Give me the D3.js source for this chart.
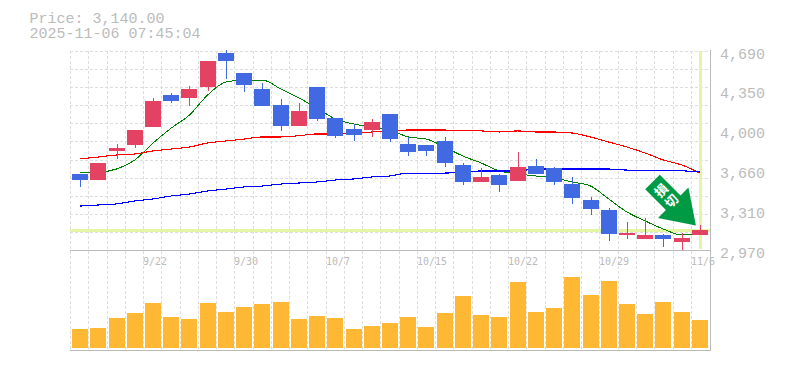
<!DOCTYPE html>
<html><head><meta charset="utf-8">
<style>html,body{margin:0;padding:0;background:#fff}svg{display:block}</style>
<script src="https://cdnjs.cloudflare.com/ajax/libs/d3/7.8.5/d3.min.js"></script></head>
<body><svg id="c" width="785" height="370"></svg>
<script>
const dates=["9/16","9/17","9/18","9/19","9/22","9/24","9/25","9/26","9/29","9/30","10/1","10/2","10/3","10/6","10/7","10/8","10/9","10/10","10/14","10/15","10/16","10/17","10/20","10/21","10/22","10/23","10/24","10/27","10/28","10/29","10/30","10/31","11/4","11/5","11/6"];
const tickDates=["9/22","9/30","10/7","10/15","10/22","10/29","11/6"];
const opens=[3627,3575,3826,3878,4033,4310,4284,4379,4673,4500,4362,4223,4042,4379,4111,4016,4007,4145,3886,3878,3912,3705,3558,3618,3566,3696,3679,3540,3402,3316,3100,3065,3100,3039,3100];
const closes=[3575,3722,3852,4007,4258,4258,4362,4604,4604,4396,4215,4042,4171,4102,3955,3964,4076,3929,3817,3826,3722,3558,3601,3532,3687,3627,3558,3419,3324,3108,3117,3100,3065,3074,3140];
const highs=[3627,3722,3886,4007,4284,4327,4387,4604,4699,4500,4413,4275,4241,4379,4111,4059,4102,4145,3947,3878,3947,3722,3679,3627,3817,3757,3687,3601,3428,3333,3212,3247,3108,3117,3186];
const lows=[3515,3575,3757,3852,4033,4241,4215,4344,4448,4336,4215,3999,4042,4085,3938,3912,3947,3903,3782,3782,3687,3532,3558,3471,3566,3627,3532,3368,3272,3048,3065,3065,2996,2970,3100];
const ma5=[3644,3644,3670,3748,3895,4024,4137,4310,4422,4439,4439,4362,4284,4197,4102,4059,4033,4007,3947,3929,3860,3782,3722,3653,3627,3610,3592,3558,3523,3411,3298,3221,3151,3100,3100];
const ma25=[3757,3774,3791,3800,3826,3843,3860,3895,3912,3929,3947,3947,3958,3973,3973,3981,3990,3999,4007,4007,4007,3999,3999,3990,3999,3990,3990,3981,3947,3903,3860,3808,3748,3705,3635];
const ma75=[3350,3359,3368,3394,3411,3437,3454,3480,3497,3515,3523,3540,3549,3558,3575,3584,3601,3610,3635,3635,3635,3644,3653,3653,3653,3670,3670,3670,3670,3670,3661,3661,3661,3655,3644];
const volumes=[19,20,30,35,45,31,29,45,36,41,44,46,29,32,30,19,22,25,31,21,35,52,33,31,66,36,40,71,53,67,44,34,46,36,28];
const priceTicks=[4690,4350,4000,3660,3310,2970];
const lastPrice=3140;
const titleLines=["Price: 3,140.00","2025-11-06 07:45:04"];
const arrowLabel="損切";

const svg=d3.select("#c");
const L=70,T=51,B=250,VB=348,VAxis=350;
const x=d3.scaleBand().domain(d3.range(dates.length)).range([71,709]).padding(0);
const cx=i=>x(i)+x.bandwidth()/2;
const gx=i=>Math.round(x(i)-1+i*0.03)+.5;
const y=d3.scaleLinear().domain([2970,4690]).range([B,T]);
const v=d3.scaleLinear().domain([0,71]).range([VB,277]);
const grey="#bbb", mono="'Liberation Mono',monospace";

// grid
const g=svg.append("g").attr("stroke","#ddd").attr("stroke-width",1).attr("stroke-dasharray","3 2").attr("shape-rendering","crispEdges");
d3.range(dates.length).forEach(i=>g.append("line").attr("x1",gx(i)).attr("x2",gx(i)).attr("y1",T).attr("y2",VAxis));
d3.range(0,11).forEach(k=>{const yy=Math.round(T+k*(B-T)/11)+.5;g.append("line").attr("x1",L).attr("x2",710).attr("y1",yy).attr("y2",yy);});

// axis frame
const f=svg.append("g").attr("stroke",grey).attr("shape-rendering","crispEdges");
f.append("line").attr("x1",L).attr("x2",711).attr("y1",250.5).attr("y2",250.5);
f.append("line").attr("x1",L).attr("x2",711).attr("y1",350.5).attr("y2",350.5);
f.append("line").attr("x1",710.5).attr("x2",710.5).attr("y1",T-1).attr("y2",351);

// current price cross
const lastX=Math.round(cx(dates.length-1));
svg.append("rect").attr("shape-rendering","crispEdges").attr("x",L).attr("width",640).attr("y",Math.round(y(lastPrice))-1).attr("height",3).attr("fill","#e5f5a6");
svg.append("rect").attr("shape-rendering","crispEdges").attr("x",lastX-1).attr("width",3).attr("y",T).attr("height",B-T-1).attr("fill","#e5f5a6");

// moving averages
const line=d3.line().x((d,i)=>cx(i)).y(d=>y(d)).curve(d3.curveMonotoneX);
[[ma5,"#008000",1],[ma25,"#ff0000",1.1],[ma75,"#0000ff",1.1]].forEach(([d,c,w])=>
 svg.append("path").attr("d",line(d)).attr("fill","none").attr("stroke",c).attr("stroke-width",w).attr("shape-rendering","crispEdges"));

// candles
const up="#e34262",dn="#4169e1";
const cg=svg.append("g").attr("shape-rendering","crispEdges");
const left=i=>Math.round(cx(i))-8;
dates.forEach((_,i)=>{
 const c=closes[i]>=opens[i]?up:dn;
 cg.append("rect").attr("x",left(i)+8).attr("width",1).attr("y",y(highs[i])).attr("height",y(lows[i])-y(highs[i])).attr("fill",c);
 const t=y(Math.max(opens[i],closes[i])),b=y(Math.min(opens[i],closes[i]));
 cg.append("rect").attr("x",left(i)).attr("width",16).attr("y",t).attr("height",Math.max(b-t,1)).attr("fill",c);
});

// volume
svg.append("g").selectAll("rect").data(volumes).join("rect").attr("shape-rendering","crispEdges")
 .attr("x",(d,i)=>left(i)).attr("width",16).attr("y",d=>v(d)).attr("height",d=>VB-v(d)).attr("fill","#ffb834");

// axes text
svg.append("g").selectAll("text").data(priceTicks).join("text").attr("x",720).attr("y",d=>y(d)+7.5)
 .attr("font-family",mono).attr("font-size",15).attr("fill",grey).text(d=>d3.format(",")(d));
svg.append("g").selectAll("text").data(tickDates).join("text").attr("x",d=>gx(dates.indexOf(d))-.5).attr("y",265)
 .attr("font-family","'DejaVu Sans Mono',monospace").attr("font-size",10).attr("fill",grey).text(d=>d);
svg.append("g").selectAll("text").data(titleLines).join("text").attr("x",29.5).attr("y",(d,i)=>23+i*15)
 .attr("font-family",mono).attr("font-size",15).attr("fill",grey).text(d=>d);

// signal arrow
const ag=svg.append("g").attr("transform","translate(652.5,182) rotate(-45)");
ag.append("path").attr("d","M-10.3,0 L10.3,0 L10.3,29.3 L21.5,29.3 L0,61.4 L-21.5,29.3 L-10.3,29.3 Z").attr("fill","#009944");
ag.selectAll("text").data(arrowLabel.split("")).join("text").attr("x",0).attr("y",(d,i)=>17+i*14.6).attr("text-anchor","middle")
 .attr("font-family","'Noto Sans CJK JP'").attr("font-weight",700).attr("font-size",13).attr("fill","#fff").text(d=>d);
</script></body></html>
